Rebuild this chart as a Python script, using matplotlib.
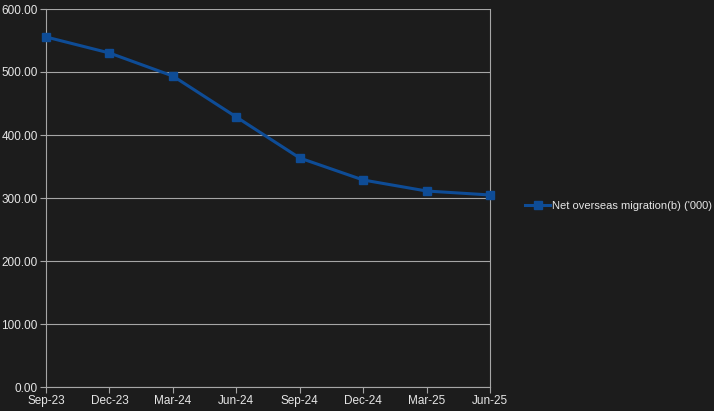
import numpy as np
import matplotlib.pyplot as plt

plt.rcParams['font.family'] = ['Liberation Sans', 'DejaVu Sans']

quarters = ["Sep-23", "Dec-23", "Mar-24", "Jun-24", "Sep-24", "Dec-24", "Mar-25", "Jun-25"]
migration = [555.6, 530.2, 493.6, 428.6, 363.5, 328.6, 311.1, 304.8]
yticks = [0, 100, 200, 300, 400, 500, 600]

bg = "#1c1c1c"
line_col = "#0e4c96"
text_col = "#e6e6e6"
grid_col = "#a6a6a6"

fig = plt.figure(figsize=(7.14, 4.11), dpi=100, facecolor=bg)
ax = fig.add_axes([46 / 714, 24 / 411, 444 / 714, 378 / 411], facecolor=bg)

x = np.arange(len(quarters))
ax.plot(x, migration, color=line_col, lw=2.2, marker="s", ms=6, clip_on=False, zorder=3,
        label="Net overseas migration(b) ('000)")

ax.set_xlim(0, len(quarters) - 1)
ax.set_ylim(0, 600)
ax.set_xticks(x)
ax.set_xticklabels(quarters)
ax.set_yticks(yticks)
ax.set_yticklabels(["{:.2f}".format(v) for v in yticks])

ax.grid(axis="y", color=grid_col, lw=0.8)
ax.set_axisbelow(True)
for side in ["left", "bottom", "right"]:
    ax.spines[side].set_color(grid_col)
    ax.spines[side].set_linewidth(0.8)
ax.spines["top"].set_visible(False)

ax.tick_params(colors=grid_col, labelcolor=text_col, labelsize=8.5, length=4, width=0.8)
ax.tick_params(axis="y", pad=2)
ax.tick_params(axis="x", pad=2)

fig.legend(loc="center left", bbox_to_anchor=(522 / 714, 1 - 206 / 411), frameon=False,
           fontsize=8, labelcolor=text_col, handlelength=2.2, handletextpad=0.2,
           borderaxespad=0, borderpad=0.3)

fig.savefig("out.png", dpi=100, facecolor=bg)
